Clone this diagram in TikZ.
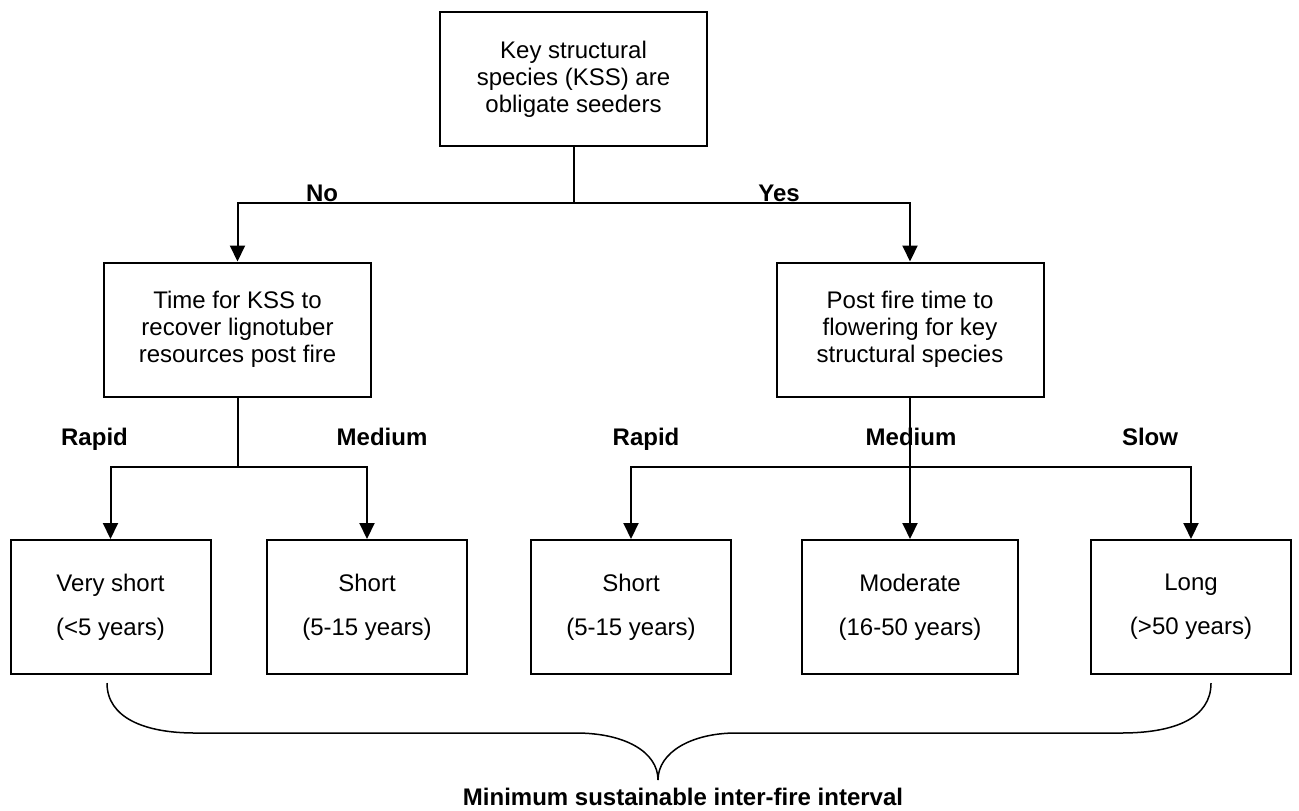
\documentclass[tikz,border=0pt]{standalone}
\usepackage{fontspec}
\setmainfont{Liberation Sans}
\usepackage{tikz}
\usetikzlibrary{arrows.meta}
\tikzstyle{qa} = [rectangle, minimum width=133.5pt, minimum height=67pt, align=center, draw=black, line width=1pt, fill=white]
\tikzstyle{ra} = [rectangle, minimum width=100pt, minimum height=67pt, align=center, draw=black, line width=1pt, fill=white]
\tikzstyle{lab} = [font=\fontsize{12}{13.5}\selectfont\bfseries, anchor=base]
\tikzstyle{arrow} = [line width=1pt,-{Triangle[length=8pt,width=7.5pt]}]
\tikzstyle{line} = [line width=1pt]
\begin{document}
\begin{tikzpicture}[x=0.5pt, y=-0.5pt, font=\fontsize{12}{13.5}\selectfont]
\useasboundingbox (0,0) rectangle (1299,810);

\node (kss) [qa] at (573.5,79) {Key structural\\species (KSS) are\\obligate seeders};

\node (recover) [qa] at (237.5,329.5) {Time for KSS to\\recover lignotuber\\resources post fire};
\node (flower) [qa] at (910,329.5) {Post fire time to\\flowering for key\\structural species};

\node (vshort) [ra] at (110.5,607) {Very short\\[8.5pt](<5 years)};
\node (short1) [ra] at (367,607) {Short\\[8.5pt](5-15 years)};
\node (short2) [ra] at (631,607) {Short\\[8.5pt](5-15 years)};
\node (moderate) [ra, minimum width=108pt] at (910,607) {Moderate\\[8.5pt](16-50 years)};
\node (long) [ra] at (1191,607) {Long\\[8.5pt](>50 years)};

\node (no) [lab] at (322,201) {No};
\node (yes) [lab] at (779,201) {Yes};
\node (rapid1) [lab] at (94.5,445) {Rapid};
\node (medium1) [lab] at (382,445) {Medium};
\node (rapid2) [lab] at (646,445) {Rapid};
\node (medium2) [lab] at (911,445) {Medium};
\node (slow) [lab] at (1150,445) {Slow};
\node (mini) [lab] at (683,805) {Minimum sustainable inter-fire interval};

\coordinate (s1) at (573.5,203);
\coordinate (s2) at (237.5,467);
\coordinate (s3) at (910,467);

\draw [line] (kss) -- (s1);
\draw [arrow] (s1) -| (recover);
\draw [arrow] (s1) -| (flower);

\draw [line] (recover) -- (s2);
\draw [arrow] (s2) -| (vshort);
\draw [arrow] (s2) -| (short1);

\draw [arrow] (flower) -- (moderate);
\draw [arrow] (s3) -| (short2);
\draw [arrow] (s3) -| (long);

% brace
\coordinate (bl) at (107,683);
\coordinate (bt) at (658,780);
\coordinate (br) at (1211,683);
\draw [line width=0.75pt] (bl) .. controls (107,718) and (145,733) .. (195,733) -- (576,733)
  .. controls (625,733) and (658,752) .. (bt) .. controls (658,752) and (692,733) .. (736,733)
  -- (1121,733) .. controls (1175,733) and (1211,718) .. (br);

\end{tikzpicture}
\end{document}
